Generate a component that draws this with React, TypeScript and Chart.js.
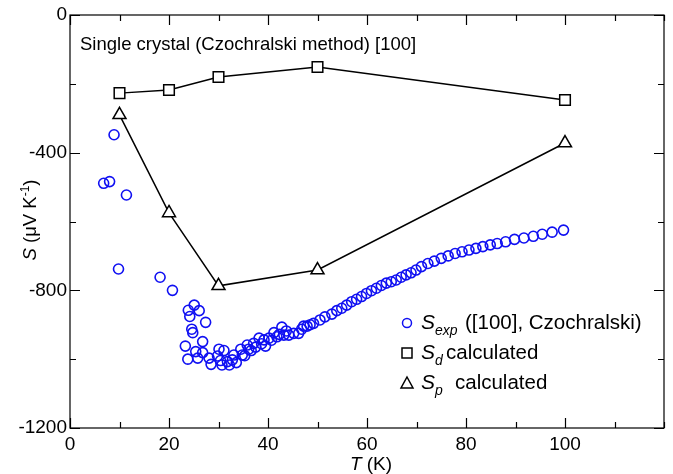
import React, { useEffect, useRef } from 'react';
import { Chart, registerables } from 'chart.js';

Chart.register(...registerables);

// Experimental data: S_exp ([100], Czochralski)
const expT = [
  6.8, 8.0, 8.9, 9.8, 11.4, 18.2, 20.7,
  23.3, 23.8, 23.9, 24.2, 24.6, 24.8, 25.1, 25.4, 25.8, 26.1, 26.8, 26.8, 27.4, 28.1, 28.5,
  29.8, 30.1, 30.4, 30.7, 31.1, 31.8, 32.2, 32.8, 33.1, 33.6, 34.5, 34.8, 35.3, 35.8, 36.1,
  36.6, 37.1, 37.5, 38.2, 38.7, 39.2, 39.5, 40.2, 40.7, 41.2, 41.8, 42.3, 42.8, 43.2, 43.7,
  44.2, 45.2, 46.2, 46.8, 47.2, 47.9, 48.5, 49.2, 50.5, 51.5, 52.9, 53.9, 54.9, 55.9, 56.9,
  57.9, 58.9, 59.9, 60.9, 61.9, 62.9, 63.9, 64.9, 65.9, 66.9, 67.9, 68.9, 69.9, 71.0, 72.3,
  73.6, 75.0, 76.4, 77.8, 79.2, 80.6, 82.0, 83.4, 84.9, 86.3, 88.0, 89.8, 91.7, 93.6, 95.4,
  97.4, 99.7,
];
const expS = [
  -489, -484, -348, -738, -523, -762, -800,
  -962, -1000, -858, -876, -913, -923, -843, -978, -997, -859, -949, -981, -893, -997, -1015,
  -991, -971, -1004, -1017, -975, -1007, -1017, -1002, -988, -1010, -971, -988, -990, -959, -971,
  -975, -954, -965, -939, -955, -944, -962, -939, -945, -923, -935, -928, -907, -930, -918,
  -930, -925, -925, -913, -904, -904, -900, -896, -886, -877, -869, -859, -852, -843, -833,
  -826, -818, -809, -801, -794, -786, -779, -775, -770, -762, -755, -749, -741, -731, -722,
  -715, -707, -700, -693, -688, -683, -678, -673, -668, -664, -659, -652, -648, -643, -637,
  -631, -625,
];

// Calculated series
const calcT = [10, 20, 30, 50, 100];
const sdS = [-227, -218, -180, -151, -247];
const spS = [-290, -575, -787, -741, -372];

// Axis ticks
const xTickLabels = [0, 20, 40, 60, 80, 100];
const yTickLabels = [-1200, -800, -400, 0];
const xMinorTicks = [0, 10, 20, 30, 40, 50, 60, 70, 80, 90, 100, 110, 120];
const yMinorTicks = [-1200, -1000, -800, -600, -400, -200, 0];

const FONT = '"Liberation Sans", Arial, Helvetica, sans-serif';
const BLUE = '#1010f2';

const decorPlugin = {
  id: 'decor',
  afterDraw(chart: any) {
    const { ctx, chartArea } = chart;
    const xs = chart.scales.x;
    const ys = chart.scales.y;
    const { left, right, top, bottom } = chartArea;
    ctx.save();
    ctx.strokeStyle = '#000';
    ctx.fillStyle = '#000';
    ctx.lineWidth = 1.2;
    ctx.strokeRect(left, top, right - left, bottom - top);

    // ticks (inward, mirrored)
    ctx.beginPath();
    for (const v of xMinorTicks) {
      const px = Math.round(xs.getPixelForValue(v)) + 0.5;
      const len = xTickLabels.includes(v) ? 10 : 6;
      ctx.moveTo(px, bottom);
      ctx.lineTo(px, bottom - len);
      ctx.moveTo(px, top);
      ctx.lineTo(px, top + len);
    }
    for (const v of yMinorTicks) {
      const py = Math.round(ys.getPixelForValue(v)) + 0.5;
      const len = yTickLabels.includes(v) ? 10 : 6;
      ctx.moveTo(left, py);
      ctx.lineTo(left + len, py);
      ctx.moveTo(right, py);
      ctx.lineTo(right - len, py);
    }
    ctx.stroke();

    // annotation text
    ctx.font = `18.5px ${FONT}`;
    ctx.textAlign = 'left';
    ctx.textBaseline = 'alphabetic';
    ctx.fillText('Single crystal (Czochralski method) [100]', 80, 50);

    // legend
    const drawLabel = (y: number, sub: string, rest: string, restX: number) => {
      ctx.font = `italic 21px ${FONT}`;
      ctx.fillText('S', 421, y);
      const sw = ctx.measureText('S').width;
      ctx.font = `italic 14px ${FONT}`;
      ctx.fillText(sub, 421 + sw, y + 6);
      ctx.font = `20.5px ${FONT}`;
      ctx.fillText(rest, restX, y);
    };
    // row 1
    ctx.lineWidth = 1.5;
    ctx.strokeStyle = BLUE;
    ctx.beginPath();
    ctx.arc(407, 323, 4.5, 0, Math.PI * 2);
    ctx.stroke();
    drawLabel(329, 'exp', '([100], Czochralski)', 465);
    // row 2
    ctx.strokeStyle = '#000';
    ctx.strokeRect(402, 348, 10, 10);
    drawLabel(359, 'd', 'calculated', 446);
    // row 3
    ctx.beginPath();
    ctx.moveTo(407, 377);
    ctx.lineTo(413, 388);
    ctx.lineTo(401, 388);
    ctx.closePath();
    ctx.stroke();
    drawLabel(389, 'p', 'calculated', 455);

    // x axis title
    ctx.font = `italic 19px ${FONT}`;
    const tw = ctx.measureText('T').width;
    ctx.font = `19px ${FONT}`;
    const kw = ctx.measureText(' (K)').width;
    const x0 = 371 - (tw + kw) / 2;
    ctx.font = `italic 19px ${FONT}`;
    ctx.fillText('T', x0, 470);
    ctx.font = `19px ${FONT}`;
    ctx.fillText(' (K)', x0 + tw, 470);

    // y axis title (rotated)
    ctx.translate(36, 220);
    ctx.rotate(-Math.PI / 2);
    ctx.font = `italic 18.5px ${FONT}`;
    const sW = ctx.measureText('S').width;
    ctx.font = `18.5px ${FONT}`;
    const aW = ctx.measureText(' (\u03bcV K').width;
    ctx.font = `12px ${FONT}`;
    const supW = ctx.measureText('-1').width;
    ctx.font = `18.5px ${FONT}`;
    const cW = ctx.measureText(')').width;
    let cx = -(sW + aW + supW + cW) / 2;
    ctx.font = `italic 18.5px ${FONT}`;
    ctx.fillText('S', cx, 0);
    cx += sW;
    ctx.font = `18.5px ${FONT}`;
    ctx.fillText(' (\u03bcV K', cx, 0);
    cx += aW;
    ctx.font = `12px ${FONT}`;
    ctx.fillText('-1', cx, -7);
    cx += supW;
    ctx.font = `18.5px ${FONT}`;
    ctx.fillText(')', cx, 0);
    ctx.restore();
  },
};

export default function App() {
  const ref = useRef<HTMLCanvasElement | null>(null);
  useEffect(() => {
    if (!ref.current) return;
    const chart = new Chart(ref.current, {
      type: 'scatter',
      data: {
        datasets: [
          {
            label: 'S_d calculated',
            data: calcT.map((t, i) => ({ x: t, y: sdS[i] })),
            showLine: true,
            borderColor: '#000',
            borderWidth: 1.5,
            pointStyle: 'rect',
            pointRadius: 7.5,
            pointBorderWidth: 1.5,
            pointBorderColor: '#000',
            pointBackgroundColor: '#fff',
            order: 1,
          },
          {
            label: 'S_p calculated',
            data: calcT.map((t, i) => ({ x: t, y: spS[i] })),
            showLine: true,
            borderColor: '#000',
            borderWidth: 1.5,
            pointStyle: 'triangle',
            pointRadius: 7.5,
            pointBorderWidth: 1.5,
            pointBorderColor: '#000',
            pointBackgroundColor: '#fff',
            order: 1,
          },
          {
            label: 'S_exp',
            data: expT.map((t, i) => ({ x: t, y: expS[i] })),
            showLine: false,
            pointStyle: 'circle',
            pointRadius: 5,
            pointBorderWidth: 1.6,
            pointBorderColor: BLUE,
            pointBackgroundColor: 'rgba(0,0,0,0)',
            order: 2,
          },
        ],
      },
      options: {
        animation: false,
        responsive: false,
        devicePixelRatio: 1,
        layout: { padding: { top: 15, right: 5, left: 0, bottom: 0 } },
        plugins: { legend: { display: false }, tooltip: { enabled: false } },
        scales: {
          x: {
            type: 'linear',
            min: 0,
            max: 120,
            grid: { display: false, drawTicks: false },
            border: { display: false },
            afterBuildTicks: (s: any) => {
              s.ticks = xTickLabels.map((v) => ({ value: v }));
            },
            afterFit: (s: any) => {
              s.height = 46;
            },
            ticks: {
              color: '#000',
              padding: 5,
              maxRotation: 0,
              font: { family: FONT, size: 19 },
              callback: (v: any) => String(v),
            },
          },
          y: {
            type: 'linear',
            min: -1200,
            max: 0,
            grid: { display: false, drawTicks: false },
            border: { display: false },
            afterBuildTicks: (s: any) => {
              s.ticks = yTickLabels.map((v) => ({ value: v }));
            },
            afterFit: (s: any) => {
              s.width = 70;
            },
            ticks: {
              color: '#000',
              padding: 3,
              font: { family: FONT, size: 19 },
              callback: (v: any) => String(v),
            },
          },
        },
      },
      plugins: [decorPlugin],
    });
    return () => chart.destroy();
  }, []);
  return (
    <div style={{ position: 'absolute', left: 0, top: 0, width: 673, height: 474, background: '#fff' }}>
      <canvas ref={ref} width={673} height={474} />
    </div>
  );
}
